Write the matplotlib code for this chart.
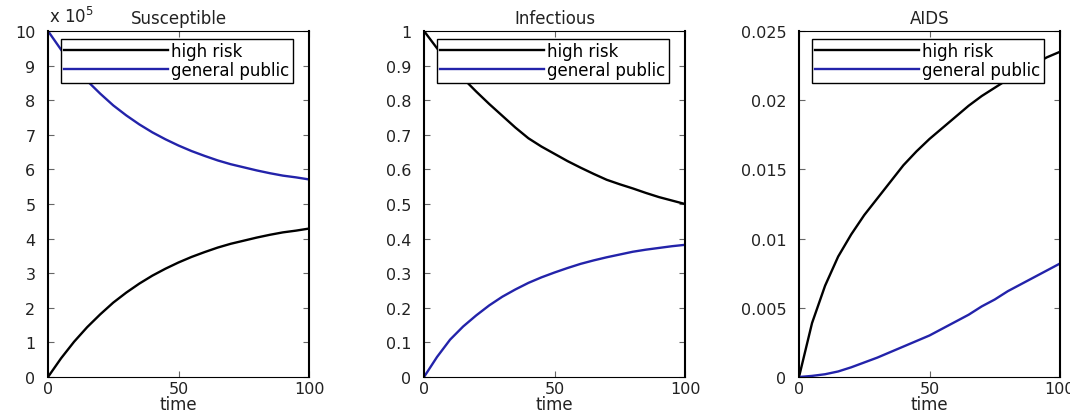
import matplotlib
matplotlib.use("Agg")
import matplotlib.pyplot as plt
from matplotlib.ticker import FormatStrFormatter, MultipleLocator

# fuente ancha, el original esta estirado en horizontal
plt.rcParams['font.family'] = ['DejaVu Sans']
plt.rcParams['font.size'] = 12

# datos (tiempo cada 5 unidades)
tiempo = [0, 5, 10, 15, 20, 25, 30, 35, 40, 45, 50,
          55, 60, 65, 70, 75, 80, 85, 90, 95, 100]

# Susceptible, en unidades de 10^5
sus_alto = [0, 0.54, 1.02, 1.44, 1.81, 2.15, 2.44, 2.70, 2.93, 3.13, 3.31,
            3.47, 3.61, 3.74, 3.85, 3.94, 4.03, 4.11, 4.18, 4.23, 4.29]
sus_general = [10, 9.46, 8.98, 8.56, 8.19, 7.85, 7.56, 7.30, 7.07, 6.87, 6.69,
               6.53, 6.39, 6.26, 6.15, 6.06, 5.97, 5.89, 5.82, 5.77, 5.71]

# Infectious
inf_alto = [1, 0.95, 0.905, 0.863, 0.825, 0.789, 0.755, 0.721, 0.69, 0.666, 0.645,
            0.624, 0.605, 0.587, 0.57, 0.557, 0.545, 0.532, 0.52, 0.51, 0.5]
inf_general = [0, 0.058, 0.108, 0.146, 0.178, 0.207, 0.232, 0.253, 0.272, 0.288, 0.302,
               0.315, 0.327, 0.337, 0.346, 0.354, 0.362, 0.368, 0.373, 0.378, 0.382]

# AIDS
aids_alto = [0, 0.0039, 0.0066, 0.0087, 0.0103, 0.0117, 0.0129, 0.0141, 0.0153, 0.0163, 0.0172,
             0.018, 0.0188, 0.0196, 0.0203, 0.0209, 0.0215, 0.0221, 0.0226, 0.0231, 0.0235]
aids_general = [0, 0.00008, 0.0002, 0.0004, 0.0007, 0.00105, 0.0014, 0.0018, 0.0022, 0.0026, 0.003,
                0.0035, 0.004, 0.0045, 0.0051, 0.0056, 0.0062, 0.0067, 0.0072, 0.0077, 0.0082]

etiquetas = ["high risk", "general public"]
titulos = ["Susceptible", "Infectious", "AIDS"]
color_alto = "black"
color_general = "#2323aa"

fig = plt.figure(figsize=(10.7, 4.14), dpi=100)
W, H = 1070.0, 414.0
izq = [48, 424, 799]   # pixeles
ancho = 261
arriba, abajo = 32, 378
alto_ax = abajo - arriba

series = [(sus_alto, sus_general, 10, 1),
          (inf_alto, inf_general, 1, 0.1),
          (aids_alto, aids_general, 0.025, 0.005)]

for i, (alto, general, ymax, paso) in enumerate(series):
    ax = fig.add_axes([izq[i] / W, 1 - abajo / H, ancho / W, alto_ax / H])
    ax.plot(tiempo, alto, color=color_alto, lw=1.7, label=etiquetas[0])
    ax.plot(tiempo, general, color=color_general, lw=1.7, label=etiquetas[1])
    ax.set_xlim(0, 100)
    ax.set_ylim(0, ymax)
    ax.xaxis.set_major_locator(MultipleLocator(50))
    ax.yaxis.set_major_locator(MultipleLocator(paso))
    ax.yaxis.set_major_formatter(FormatStrFormatter('%g'))
    ax.tick_params(direction='in', length=4, width=0.8, top=True, right=True,
                   labelsize=11.5, color='#666666', labelcolor='#222222')
    ax.tick_params(axis='y', pad=9)
    ax.tick_params(axis='x', pad=3)
    ax.spines['left'].set_linewidth(1.5)
    ax.spines['right'].set_linewidth(1.5)
    ax.spines['top'].set_linewidth(0.8)
    ax.spines['bottom'].set_linewidth(0.8)
    ax.set_title(titulos[i], fontsize=12, pad=6, color='#222222')
    ax.set_xlabel("time", fontsize=12, labelpad=-1, color='#222222')
    ax.legend(loc='upper left', bbox_to_anchor=(13 / ancho, 1 - 8 / alto_ax),
              borderaxespad=0, fancybox=False, framealpha=1, edgecolor='black',
              handlelength=6.2, handletextpad=0.2, labelspacing=0.05,
              borderpad=0.2, fontsize=12)
    if i == 0:
        ax.text(0.005, 1.015, r"x 10$^5$", transform=ax.transAxes,
                fontsize=12, ha='left', va='bottom', color='#222222')

fig.savefig("out.png", dpi=100)
